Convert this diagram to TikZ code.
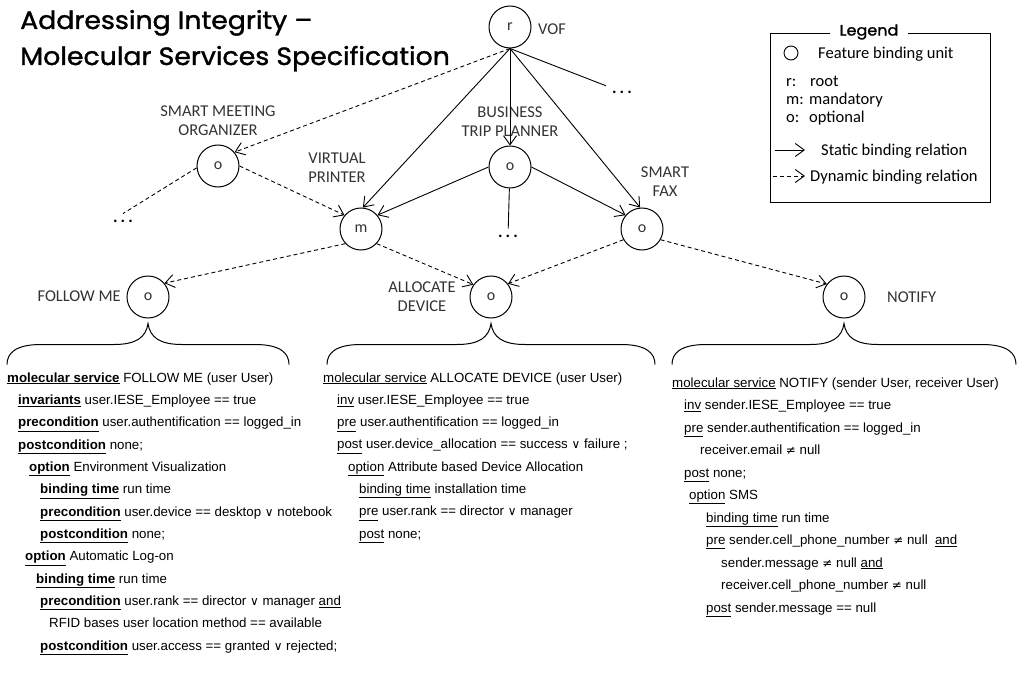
\documentclass[tikz,border=0pt]{standalone}
\usepackage{fontspec}
\setmainfont{Liberation Sans}
\newfontfamily\lblfont{Carlito}
\newfontfamily\headfont[FakeBold=1.4,FakeStretch=1.07]{Poppins}
\newfontfamily\symbfont{DejaVu Sans}
\usetikzlibrary{arrows.meta,calc}
\newcommand\kwb[1]{\textbf{\underline{#1}}}
\newcommand\kwu[1]{\underline{#1}}
\newcommand\orsym{{\symbfont\fontsize{12}{12}\selectfont ∨}}
\newcommand\nesym{{\symbfont\fontsize{12}{12}\selectfont ≠}}
\tikzset{
  ln/.style={anchor=base west, inner sep=0pt, font=\fontsize{13.3}{15}\selectfont},
  fbu/.style={circle, draw, line width=1pt, minimum size=42pt, inner sep=0pt,
    font=\lblfont\fontsize{16}{16}\selectfont, text=black!80},
  lbl/.style={font=\lblfont\fontsize{16.5}{19}\selectfont, text=black!80, align=center, inner sep=0pt},
  dots/.style={font=\lblfont\bfseries\fontsize{17}{17}\selectfont, inner sep=6pt},
  lgd/.style={font=\lblfont\fontsize{16.5}{17}\selectfont, anchor=base west, inner sep=0pt},
  ttl/.style={anchor=base west, inner sep=0pt, font=\headfont\fontsize{25}{25}\selectfont},
  sline/.style={line width=0.9pt},
  dline/.style={line width=0.9pt, dash pattern=on 4pt off 3pt},
  sarr/.style={sline, -{Straight Barb[length=9pt,width=13pt]}},
  darr/.style={dline, -{Straight Barb[length=9pt,width=13pt]}},
  svcbrace/.pic={
    \draw[line width=1pt] (-#1,41) .. controls (-#1,30) and (-#1+8,21) .. (-#1+34,21)
      -- (-34,21) .. controls (-12,21) and (-2,14) .. (0,0)
      .. controls (2,14) and (12,21) .. (34,21)
      -- (#1-34,21) .. controls (#1-8,21) and (#1,30) .. (#1,41);
  }
}
\begin{document}
\begin{tikzpicture}[x=1pt,y=-1pt]
\useasboundingbox (0,0) rectangle (1018,690);

% title
\node[ttl] (t1) at (20,29) {Addressing Integrity –};
\node[ttl] (t2) at (20,65) {Molecular Services Specification};

% feature binding units
\node[fbu] (r) at (510,27) {r};
\node[fbu] (sm) at (218,166) {o};
\node[fbu] (bt) at (510,167) {o};
\node[fbu] (vp) at (361,229) {m};
\node[fbu] (fax) at (642,229) {o};
\node[fbu] (fm) at (148,297) {o};
\node[fbu] (ad) at (491,297) {o};
\node[fbu] (nt) at (844,297) {o};

% unit names
\node[lbl, anchor=west] (rl) at (538,29) {VOF};
\node[lbl] (sml) at (218,121) {SMART MEETING\\ORGANIZER};
\node[lbl] (btl) at (510,122) {BUSINESS\\TRIP PLANNER};
\node[lbl] (vpl) at (337,168) {VIRTUAL\\PRINTER};
\node[lbl] (faxl) at (665,182) {SMART\\FAX};
\node[lbl, anchor=east] (fml) at (121,296) {FOLLOW ME};
\node[lbl] (adl) at (422,297) {ALLOCATE\\DEVICE};
\node[lbl, anchor=west] (ntl) at (887,297) {NOTIFY};

% elided branches
\node[dots] (d1) at (622,92) {.\hspace{3pt}.\hspace{3pt}.};
\node[dots] (d2) at (508,236) {.\hspace{3pt}.\hspace{3pt}.};
\node[dots] (d3) at (123,221) {.\hspace{3pt}.\hspace{3pt}.};

% static binding relations
\draw[sarr] (r.south) -- (vp.85);
\draw[sarr] (r.south) -- (bt);
\draw[sarr] (r.south) -- (fax.95);
\draw[sline] (r.south) -- (d1);
\draw[sarr] (bt.180) -- (vp.40);
\draw[sarr] (bt.0) -- (fax.140);
\draw[sline] (bt) -- (d2);

% dynamic binding relations
\draw[darr] (r.south) -- (sm.40);
\draw[darr] (sm.east) -- (vp.140);
\draw[dline] (sm.185) -- (d3.north);
\draw[darr] (vp.223) -- (fm.40);
\draw[darr] (vp.317) -- (ad.145);
\draw[darr] (fax.210) -- (ad.38);
\draw[darr] (fax.330) -- (nt.143);

% braces over the specifications
\pic at ($(fm.south)+(0,5)$) {svcbrace=141};
\pic at ($(ad.south)+(0,5)$) {svcbrace=164};
\pic at ($(nt.south)+(0,5)$) {svcbrace=172};

% FOLLOW ME specification
\node[ln] (L0) at (7,382) {\kwb{molecular service} FOLLOW ME (user User)};
\node[ln] (L1) at (18,404.3) {\kwb{invariants} user.IESE\_Employee == true};
\node[ln] (L2) at (18,426.7) {\kwb{precondition} user.authentification == logged\_in};
\node[ln] (L3) at (18,449) {\kwb{postcondition} none;};
\node[ln] (L4) at (29,471.3) {\kwb{option} Environment Visualization};
\node[ln] (L5) at (40,493.7) {\kwb{binding time} run time};
\node[ln] (L6) at (40,516) {\kwb{precondition} user.device == desktop \orsym{} notebook};
\node[ln] (L7) at (40,538.3) {\kwb{postcondition} none;};
\node[ln] (L8) at (25,560.7) {\kwb{option} Automatic Log-on};
\node[ln] (L9) at (36,583) {\kwb{binding time} run time};
\node[ln] (L10) at (40,605.3) {\kwb{precondition} user.rank == director \orsym{} manager \kwu{and}};
\node[ln] (L11) at (49,627.7) {RFID bases user location method == available};
\node[ln] (L12) at (40,650) {\kwb{postcondition} user.access == granted \orsym{} rejected;};

% ALLOCATE DEVICE specification
\node[ln] (M0) at (323,382) {\kwu{molecular service} ALLOCATE DEVICE (user User)};
\node[ln] (M1) at (337,404.3) {\kwu{inv} user.IESE\_Employee == true};
\node[ln] (M2) at (337,426.6) {\kwu{pre} user.authentification == logged\_in};
\node[ln] (M3) at (337,448.9) {\kwu{post} user.device\_allocation == success \orsym{} failure ;};
\node[ln] (M4) at (348,471.2) {\kwu{option} Attribute based Device Allocation};
\node[ln] (M5) at (359,493.5) {\kwu{binding time} installation time};
\node[ln] (M6) at (359,515.8) {\kwu{pre} user.rank == director \orsym{} manager};
\node[ln] (M7) at (359,538.1) {\kwu{post} none;};

% NOTIFY specification
\node[ln] (R0) at (672,387) {\kwu{molecular service} NOTIFY (sender User, receiver User)};
\node[ln] (R1) at (684,409.5) {\kwu{inv} sender.IESE\_Employee == true};
\node[ln] (R2) at (684,432) {\kwu{pre} sender.authentification == logged\_in};
\node[ln] (R3) at (700,454.5) {receiver.email \nesym{} null};
\node[ln] (R4) at (684,477) {\kwu{post} none;};
\node[ln] (R5) at (689,499.5) {\kwu{option} SMS};
\node[ln] (R6) at (706,522) {\kwu{binding time} run time};
\node[ln] (R7) at (706,544.5) {\kwu{pre} sender.cell\_phone\_number \nesym{} null\ \ \kwu{and}};
\node[ln] (R8) at (721,567) {sender.message \nesym{} null \kwu{and}};
\node[ln] (R9) at (721,589.5) {receiver.cell\_phone\_number \nesym{} null};
\node[ln] (R10) at (706,612) {\kwu{post} sender.message == null};

% legend
\draw[line width=0.9pt] (770,33) rectangle (990,202);
\node[fill=white, inner xsep=10pt, inner ysep=2pt, font=\headfont\fontsize{15}{15}\selectfont] (lg) at (869,32) {Legend};
\node[circle, draw, line width=0.9pt, minimum size=14pt, inner sep=0pt] (lc) at (791,53) {};
\node[lgd] (lct) at (818,59) {Feature binding unit};
\node[lgd] (k1) at (786,87) {r:};
\node[lgd] (v1) at (810,87) {root};
\node[lgd] (k2) at (786,105) {m:};
\node[lgd] (v2) at (809,105) {mandatory};
\node[lgd] (k3) at (786,123) {o:};
\node[lgd] (v3) at (809,123) {optional};
\coordinate (sa1) at (775,150);
\coordinate (sa2) at (805,150);
\draw[sarr] (sa1) -- (sa2);
\node[lgd] (sat) at (821,156) {Static binding relation};
\coordinate (da1) at (773,176);
\coordinate (da2) at (805,176);
\draw[darr] (da1) -- (da2);
\node[lgd] (dat) at (810,182) {Dynamic binding relation};
\end{tikzpicture}
\end{document}
